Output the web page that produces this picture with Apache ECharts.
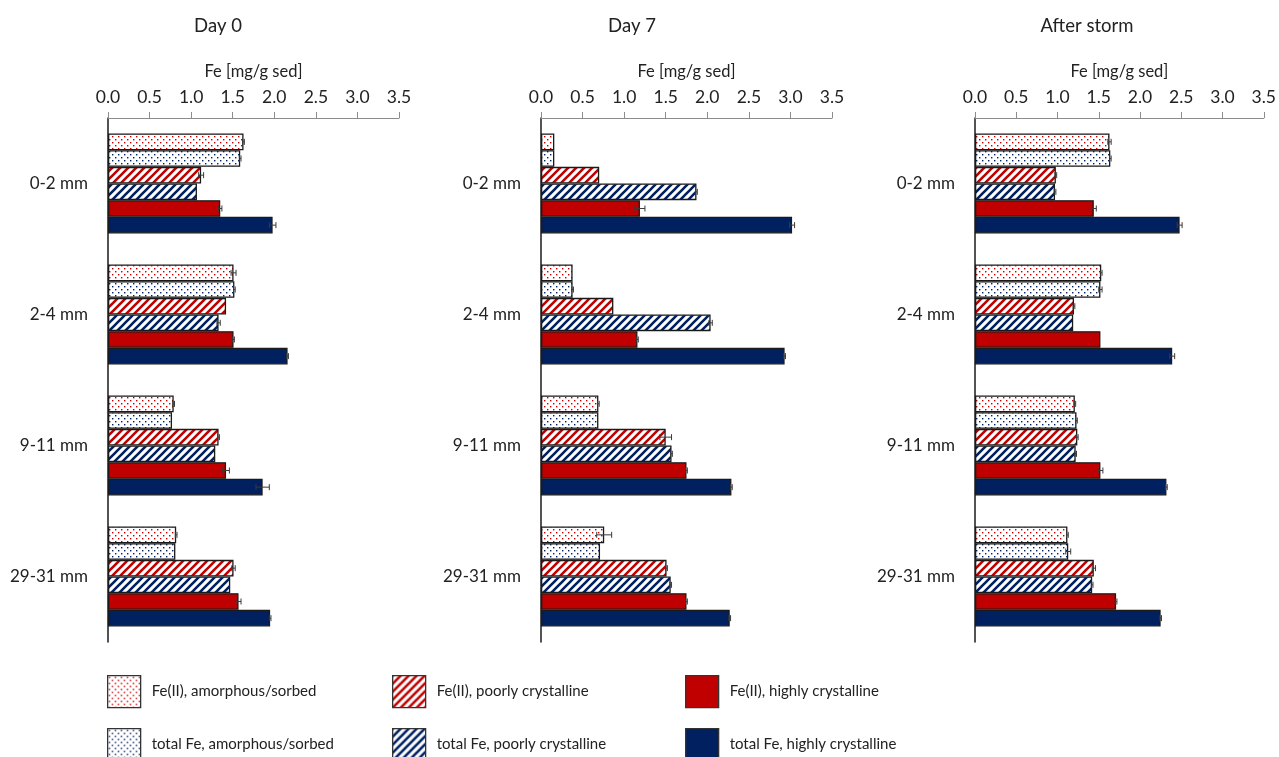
<!DOCTYPE html>
<html>
<head>
<meta charset="utf-8">
<script src="https://cdn.jsdelivr.net/npm/echarts@6/dist/echarts.min.js"></script>
<style>
  html, body { margin: 0; padding: 0; background: #fff; }
  #chart { width: 1279px; height: 757px; }
</style>
</head>
<body>
<div id="chart"></div>
<script>
// Sediment depth intervals (category axis)
const depths = ['0-2 mm', '2-4 mm', '9-11 mm', '29-31 mm'];

// Iron fractions, in the order they are stacked within each depth group
const fractions = [
  'Fe(II), amorphous/sorbed',
  'total Fe, amorphous/sorbed',
  'Fe(II), poorly crystalline',
  'total Fe, poorly crystalline',
  'Fe(II), highly crystalline',
  'total Fe, highly crystalline'
];

const panelTitles = ['Day 0', 'Day 7', 'After storm'];
const tickValues = [0, 0.5, 1, 1.5, 2, 2.5, 3, 3.5];

// Fe [mg/g sed]; one row per fraction, one column per depth
const day0Values = [
  [1.63, 1.51, 0.79, 0.82],
  [1.59, 1.52, 0.77, 0.81],
  [1.12, 1.42, 1.33, 1.51],
  [1.07, 1.33, 1.29, 1.47],
  [1.35, 1.51, 1.42, 1.57],
  [1.98, 2.16, 1.86, 1.95]
];
const day7Values = [
  [0.16, 0.38, 0.69, 0.76],
  [0.16, 0.38, 0.69, 0.71],
  [0.70, 0.87, 1.50, 1.51],
  [1.87, 2.04, 1.57, 1.56],
  [1.19, 1.16, 1.75, 1.75],
  [3.02, 2.93, 2.29, 2.27]
];
const stormValues = [
  [1.63, 1.53, 1.21, 1.12],
  [1.64, 1.52, 1.23, 1.13],
  [0.98, 1.20, 1.24, 1.44],
  [0.97, 1.19, 1.22, 1.42],
  [1.44, 1.52, 1.52, 1.71],
  [2.48, 2.39, 2.32, 2.25]
];

// Standard deviations, same layout as the values
const day0Errors = [
  [0.01, 0.03, 0.01, 0.01],
  [0.01, 0.01, 0.00, 0.00],
  [0.03, 0.00, 0.01, 0.02],
  [0.00, 0.02, 0.00, 0.00],
  [0.02, 0.01, 0.04, 0.03],
  [0.04, 0.01, 0.08, 0.01]
];
const day7Errors = [
  [0.00, 0.00, 0.01, 0.09],
  [0.00, 0.01, 0.00, 0.00],
  [0.00, 0.00, 0.07, 0.01],
  [0.01, 0.02, 0.01, 0.01],
  [0.06, 0.01, 0.01, 0.01],
  [0.03, 0.01, 0.01, 0.01]
];
const stormErrors = [
  [0.02, 0.01, 0.01, 0.01],
  [0.01, 0.02, 0.01, 0.03],
  [0.01, 0.01, 0.01, 0.02],
  [0.01, 0.00, 0.01, 0.01],
  [0.03, 0.00, 0.03, 0.01],
  [0.03, 0.03, 0.01, 0.01]
];

const RED = '#C00000';
const NAVY = '#002060';
const FONT = 'Lato, "Open Sans", sans-serif';
const TEXT = '#222';

// Canvas fill patterns
function dotPattern(color) {
  const c = document.createElement('canvas');
  c.width = 6; c.height = 6;
  const g = c.getContext('2d');
  g.fillStyle = '#fff';
  g.fillRect(0, 0, 6, 6);
  g.fillStyle = color;
  g.fillRect(1, 1, 1.4, 1.4);
  g.fillRect(4, 4, 1.4, 1.4);
  return { image: c, repeat: 'repeat' };
}
function stripePattern(color) {
  const s = 8;
  const c = document.createElement('canvas');
  c.width = s; c.height = s;
  const g = c.getContext('2d');
  g.fillStyle = '#fff';
  g.fillRect(0, 0, s, s);
  g.strokeStyle = color;
  g.lineWidth = 2.6;
  g.beginPath();
  g.moveTo(-2, s + 2); g.lineTo(s + 2, -2);
  g.moveTo(-2, 2); g.lineTo(2, -2);
  g.moveTo(s - 2, s + 2); g.lineTo(s + 2, s - 2);
  g.stroke();
  return { image: c, repeat: 'repeat' };
}

const fills = [
  dotPattern(RED),
  dotPattern(NAVY),
  stripePattern(RED),
  stripePattern(NAVY),
  RED,
  NAVY
];

const panels = [
  { values: day0Values, errors: day0Errors, left: 108, titleX: 213 },
  { values: day7Values, errors: day7Errors, left: 541, titleX: 627 },
  { values: stormValues, errors: stormErrors, left: 975, titleX: 1082 }
];

const GRID_TOP = 118;
const GRID_H = 524;
const GRID_W = 291;
const CAT_GAP = 0.237;

const grids = [], xAxes = [], yAxes = [], series = [], titles = [];

panels.forEach((p, pi) => {
  grids.push({ left: p.left, top: GRID_TOP, width: GRID_W, height: GRID_H, containLabel: false });
  titles.push({
    text: panelTitles[pi],
    left: p.titleX,
    top: 12,
    textAlign: 'center',
    textStyle: { fontFamily: FONT, fontSize: 18.5, fontWeight: 'normal', color: TEXT }
  });
  xAxes.push({
    gridIndex: pi,
    type: 'value',
    position: 'top',
    min: 0,
    max: 3.5,
    interval: 0.5,
    name: 'Fe [mg/g sed]',
    nameLocation: 'middle',
    nameGap: 38,
    nameTextStyle: { fontFamily: FONT, fontSize: 16.5, color: TEXT },
    axisLine: { show: true, lineStyle: { color: '#8c8c8c', width: 1 } },
    axisTick: { show: true, inside: false, length: 6, lineStyle: { color: '#8c8c8c' } },
    axisLabel: {
      margin: 12,
      fontFamily: FONT,
      fontSize: 17.5,
      color: TEXT,
      formatter: v => v.toFixed(1)
    },
    splitLine: { show: false }
  });
  yAxes.push({
    gridIndex: pi,
    type: 'category',
    inverse: true,
    data: depths,
    axisLine: { show: true, lineStyle: { color: '#1a1a1a', width: 1.5 } },
    axisTick: { show: false },
    axisLabel: { margin: 20, fontFamily: FONT, fontSize: 17, color: TEXT }
  });

  fractions.forEach((name, si) => {
    series.push({
      name: name,
      type: 'bar',
      xAxisIndex: pi,
      yAxisIndex: pi,
      barGap: 0,
      barCategoryGap: (CAT_GAP * 100) + '%',
      data: p.values[si],
      itemStyle: { color: fills[si], borderColor: '#1a1a1a', borderWidth: 1.3 },
      emphasis: { disabled: true },
      z: 2
    });
  });

  // error bars placed on the matching bar within each depth group
  const errData = [];
  fractions.forEach((name, si) => {
    depths.forEach((d, di) => {
      errData.push([p.values[si][di], di, p.errors[si][di], si]);
    });
  });
  series.push({
    type: 'custom',
    xAxisIndex: pi,
    yAxisIndex: pi,
    data: errData,
    z: 5,
    silent: true,
    renderItem: function (params, api) {
      const v = api.value(0), cat = api.value(1), e = api.value(2), k = api.value(3);
      if (!(e > 0)) return null;
      const band = api.size([0, 1])[1];
      const groupW = band * (1 - CAT_GAP);
      const bw = groupW / fractions.length;
      const c = api.coord([v, cat]);
      const y = c[1] - groupW / 2 + (k + 0.5) * bw;
      const x1 = api.coord([v - e, cat])[0];
      const x2 = api.coord([v + e, cat])[0];
      const cap = 3;
      const st = { stroke: '#3a3a3a', lineWidth: 1 };
      return {
        type: 'group',
        children: [
          { type: 'line', shape: { x1: x1, y1: y, x2: x2, y2: y }, style: st },
          { type: 'line', shape: { x1: x1, y1: y - cap, x2: x1, y2: y + cap }, style: st },
          { type: 'line', shape: { x1: x2, y1: y - cap, x2: x2, y2: y + cap }, style: st }
        ]
      };
    }
  });
});

// legend: three columns, two rows, one entry per legend component
const legendLefts = [107, 392, 685];
const legendTops = [675, 728];
const legends = fractions.map((name, i) => ({
  left: legendLefts[Math.floor(i / 2)],
  top: legendTops[i % 2],
  padding: 0,
  itemWidth: 33,
  itemHeight: 32,
  icon: 'rect',
  selectedMode: false,
  data: [name],
  itemStyle: { borderColor: '#333', borderWidth: 1.3 },
  textStyle: { fontFamily: FONT, fontSize: 15, color: TEXT, padding: [0, 0, 0, 6] }
}));

const chart = echarts.init(document.getElementById('chart'), null, { renderer: 'canvas' });
chart.setOption({
  backgroundColor: '#fff',
  animation: false,
  title: titles,
  legend: legends,
  grid: grids,
  xAxis: xAxes,
  yAxis: yAxes,
  series: series
});
</script>
</body>
</html>
